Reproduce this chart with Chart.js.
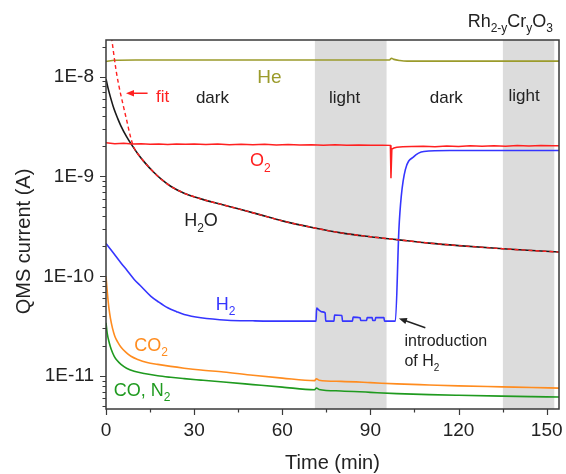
<!DOCTYPE html>
<html>
<head>
<meta charset="utf-8">
<script src="https://cdn.jsdelivr.net/npm/chart.js@4.4.0/dist/chart.umd.min.js"></script>
<style>
  html, body { margin: 0; padding: 0; background: #fff; }
  canvas { display: block; }
</style>
</head>
<body>
<canvas id="qms" width="566" height="474"></canvas>
<script>
// QMS traces over Rh(2-y)Cr(y)O3, time in minutes, ion current in A
const heTime = [0, 3, 10, 30, 60, 90, 96.5, 97.2, 98, 100, 102.5, 120, 154.2];
const heValues = [1.42e-8, 1.46e-8, 1.47e-8, 1.47e-8, 1.47e-8, 1.47e-8, 1.47e-8, 1.53e-8, 1.49e-8, 1.45e-8, 1.43e-8, 1.43e-8, 1.43e-8];

const o2Time = [0, 3, 6, 9, 12, 15, 18, 21, 24, 27, 30, 34, 38, 42, 46, 50, 54, 58, 62, 66, 70, 74, 78, 82, 86, 90, 94, 96.8, 97.0, 97.3, 98.0, 99, 101, 104, 108, 112, 116, 120, 124, 128, 132, 136, 140, 144, 148, 152, 154.2];
const o2Values = [2.18e-9, 2.13e-9, 2.15e-9, 2.11e-9, 2.13e-9, 2.10e-9, 2.12e-9, 2.09e-9, 2.11e-9, 2.10e-9, 2.12e-9, 2.09e-9, 2.11e-9, 2.08e-9, 2.10e-9, 2.08e-9, 2.10e-9, 2.07e-9, 2.09e-9, 2.07e-9, 2.08e-9, 2.06e-9, 2.08e-9, 2.06e-9, 2.07e-9, 2.05e-9, 2.06e-9, 2.05e-9, 9.6e-10, 1.88e-9, 1.93e-9, 1.96e-9, 1.98e-9, 2.00e-9, 2.01e-9, 1.99e-9, 2.02e-9, 2.00e-9, 2.03e-9, 2.01e-9, 2.03e-9, 2.01e-9, 2.04e-9, 2.02e-9, 2.04e-9, 2.03e-9, 2.03e-9];

const h2oTime = [0, 0.5, 1, 2, 2.8, 4, 5.1, 7, 9.1, 11, 13, 16, 18.7, 22, 26.6, 32, 38.5, 45, 52, 60, 71, 80, 90, 99, 110, 120, 135, 145, 154.2];
const h2oValues = [9.5e-9, 8.13e-9, 7.08e-9, 5.56e-9, 4.68e-9, 3.8e-9, 3.2e-9, 2.51e-9, 2.0e-9, 1.66e-9, 1.4e-9, 1.12e-9, 9.44e-10, 7.98e-10, 6.8e-10, 6.0e-10, 5.32e-10, 4.74e-10, 4.17e-10, 3.59e-10, 3.05e-10, 2.72e-10, 2.49e-10, 2.33e-10, 2.15e-10, 2.03e-10, 1.89e-10, 1.81e-10, 1.75e-10];

const fitTime = [0, 1, 2, 3.4, 4.5, 5.7, 7, 8.5, 9.5, 11, 13, 16, 18.7, 22, 26.6, 32, 38.5, 45, 52, 60, 71, 80, 90, 99, 110, 120, 135, 145, 154.2];
const fitValues = [6.5e-8, 3.8e-8, 2.33e-8, 1.17e-8, 7.8e-9, 5.4e-9, 3.7e-9, 2.4e-9, 1.95e-9, 1.66e-9, 1.4e-9, 1.12e-9, 9.44e-10, 7.98e-10, 6.8e-10, 6.0e-10, 5.32e-10, 4.74e-10, 4.17e-10, 3.59e-10, 3.05e-10, 2.72e-10, 2.49e-10, 2.33e-10, 2.15e-10, 2.03e-10, 1.89e-10, 1.81e-10, 1.75e-10];

const h2Time = [0, 2, 5.1, 7, 9.6, 12, 15.3, 18, 21, 24, 26.6, 32.3, 41.3, 50, 60, 71.5, 71.7, 72.4, 73.5, 74.6, 74.8, 77.6, 77.8, 80.3, 80.5, 83.9, 84.1, 86.5, 86.7, 88.7, 88.9, 90.6, 90.8, 91.6, 91.8, 94.6, 94.8, 98.5, 99.7, 100.5, 101.9, 104.8, 108.2, 117, 135, 154.2];
const h2Values = [2.13e-10, 1.79e-10, 1.36e-10, 1.16e-10, 9.3e-11, 7.9e-11, 6.3e-11, 5.5e-11, 4.83e-11, 4.42e-11, 4.14e-11, 3.84e-11, 3.63e-11, 3.58e-11, 3.55e-11, 3.55e-11, 4.8e-11, 4.6e-11, 4.4e-11, 4.3e-11, 3.55e-11, 3.55e-11, 4.1e-11, 4.05e-11, 3.55e-11, 3.55e-11, 3.9e-11, 3.85e-11, 3.6e-11, 3.6e-11, 3.85e-11, 3.85e-11, 3.6e-11, 3.6e-11, 3.85e-11, 3.85e-11, 3.55e-11, 3.55e-11, 2.93e-10, 6.3e-10, 1.17e-9, 1.58e-9, 1.78e-9, 1.82e-9, 1.82e-9, 1.82e-9];

const co2Time = [0, 0.3, 0.6, 1.0, 1.5, 2.2, 3, 4, 5.2, 6.8, 8.5, 10.8, 14, 17.6, 22, 26.6, 32.3, 40, 50, 60, 71, 71.6, 72.5, 80, 90, 99, 110, 120, 135, 145, 154.2];
const co2Values = [1.0e-10, 7.76e-11, 6.17e-11, 4.79e-11, 3.8e-11, 3.02e-11, 2.51e-11, 2.19e-11, 1.93e-11, 1.73e-11, 1.58e-11, 1.47e-11, 1.37e-11, 1.31e-11, 1.25e-11, 1.2e-11, 1.15e-11, 1.1e-11, 1.02e-11, 9.55e-12, 9.0e-12, 9.4e-12, 9.1e-12, 8.85e-12, 8.6e-12, 8.35e-12, 8.15e-12, 7.98e-12, 7.8e-12, 7.68e-12, 7.58e-12];

const coTime = [0, 0.4, 1.1, 1.8, 2.8, 3.8, 5.1, 7, 9.6, 13, 17.6, 22, 26.6, 32.3, 40, 50, 60, 71, 71.6, 72.5, 80, 90, 99, 110, 120, 135, 145, 154.2];
const coValues = [3.42e-11, 2.69e-11, 2.16e-11, 1.85e-11, 1.58e-11, 1.43e-11, 1.31e-11, 1.2e-11, 1.12e-11, 1.06e-11, 1.007e-11, 9.73e-12, 9.44e-12, 9.12e-12, 8.71e-12, 8.22e-12, 7.76e-12, 7.3e-12, 7.6e-12, 7.35e-12, 7.1e-12, 6.87e-12, 6.68e-12, 6.52e-12, 6.42e-12, 6.3e-12, 6.23e-12, 6.17e-12];

// illuminated intervals (min)
const lightStart = [71.1, 135.1];
const lightEnd = [95.5, 152.6];

const xTickValues = [0, 30, 60, 90, 120, 150];

const FONT = '"Liberation Sans", Arial, sans-serif';
const OLIVE = '#9b9b2b';
const RED = '#ff2020';
const BLUE = '#3535ff';
const ORANGE = '#ff8c1f';
const GREEN = '#1f9a1f';
const INK = '#222';

// text annotations, anchored at the left end of the baseline in data units
const annotations = [
  { parts: [['He']], t: 51.5, v: 8.55e-9, size: 19, color: OLIVE },
  { parts: [['dark']], t: 30.6, v: 5.42e-9, size: 17, color: INK },
  { parts: [['light']], t: 75.9, v: 5.42e-9, size: 17, color: INK },
  { parts: [['dark']], t: 110.2, v: 5.42e-9, size: 17, color: INK },
  { parts: [['light']], t: 137.0, v: 5.75e-9, size: 17, color: INK },
  { parts: [['fit']], t: 17.0, v: 5.62e-9, size: 17, color: RED },
  { parts: [['O'], ['2', true]], t: 49.0, v: 1.26e-9, size: 18, color: RED },
  { parts: [['H'], ['2', true], ['O']], t: 26.6, v: 3.16e-10, size: 18, color: INK },
  { parts: [['H'], ['2', true]], t: 37.4, v: 4.64e-11, size: 18, color: BLUE },
  { parts: [['introduction']], t: 101.6, v: 2.0e-11, size: 16, color: INK },
  { parts: [['of H'], ['2', true]], t: 101.6, v: 1.26e-11, size: 16, color: INK },
  { parts: [['CO'], ['2', true]], t: 9.6, v: 1.78e-11, size: 18, color: ORANGE },
  { parts: [['CO, N'], ['2', true]], t: 2.6, v: 6.31e-12, size: 18, color: GREEN }
];

const arrows = [
  { from: [14.15, 6.82e-9], to: [6.8, 6.82e-9], color: RED },
  { from: [108.7, 3.05e-11], to: [99.7, 3.78e-11], color: INK }
];

function points(t, v) {
  return t.map((x, i) => ({ x: x, y: v[i] }));
}

function subSize(size) {
  return Math.round(size * 0.64);
}

function richWidth(ctx, parts, size) {
  let w = 0;
  parts.forEach(p => {
    ctx.font = (p[1] ? subSize(size) : size) + 'px ' + FONT;
    w += ctx.measureText(p[0]).width;
  });
  return w;
}

function drawRich(ctx, parts, x, y, size, color) {
  let cx = x;
  ctx.fillStyle = color;
  ctx.textAlign = 'left';
  ctx.textBaseline = 'alphabetic';
  parts.forEach(p => {
    ctx.font = (p[1] ? subSize(size) : size) + 'px ' + FONT;
    ctx.fillText(p[0], cx, y + (p[1] ? size * 0.3 : 0));
    cx += ctx.measureText(p[0]).width;
  });
}

function drawArrow(ctx, x1, y1, x2, y2, color) {
  const ang = Math.atan2(y2 - y1, x2 - x1);
  const head = 8, half = 3.2;
  ctx.strokeStyle = color;
  ctx.fillStyle = color;
  ctx.lineWidth = 1.5;
  ctx.beginPath();
  ctx.moveTo(x1, y1);
  ctx.lineTo(x2 - Math.cos(ang) * head * 0.8, y2 - Math.sin(ang) * head * 0.8);
  ctx.stroke();
  ctx.beginPath();
  ctx.moveTo(x2, y2);
  ctx.lineTo(x2 - Math.cos(ang) * head - Math.sin(ang) * half, y2 - Math.sin(ang) * head + Math.cos(ang) * half);
  ctx.lineTo(x2 - Math.cos(ang) * head + Math.sin(ang) * half, y2 - Math.sin(ang) * head - Math.cos(ang) * half);
  ctx.closePath();
  ctx.fill();
}

// grey bands behind the traces for the light periods
const lightBands = {
  id: 'lightBands',
  beforeDatasetsDraw(chart) {
    const { ctx, chartArea, scales } = chart;
    ctx.save();
    ctx.fillStyle = '#dcdcdc';
    lightStart.forEach((s, i) => {
      const x1 = scales.x.getPixelForValue(s);
      const x2 = scales.x.getPixelForValue(lightEnd[i]);
      ctx.fillRect(x1, chartArea.top, x2 - x1, chartArea.bottom - chartArea.top);
    });
    ctx.restore();
  }
};

// box frame plus outward major/minor tick marks
const frameTicks = {
  id: 'frameTicks',
  afterDatasetsDraw(chart) {
    const { ctx, chartArea: a, scales } = chart;
    ctx.save();
    ctx.strokeStyle = '#3a3a3a';
    ctx.lineWidth = 1.5;
    ctx.strokeRect(a.left, a.top, a.right - a.left, a.bottom - a.top);
    ctx.lineWidth = 1.2;
    ctx.beginPath();
    scales.y.ticks.forEach(tk => {
      const py = Math.round(scales.y.getPixelForValue(tk.value)) + 0.5;
      const len = tk.major ? 6 : 3.5;
      ctx.moveTo(a.left - len, py);
      ctx.lineTo(a.left, py);
    });
    scales.x.ticks.forEach(tk => {
      const px = Math.round(scales.x.getPixelForValue(tk.value)) + 0.5;
      ctx.moveTo(px, a.bottom);
      ctx.lineTo(px, a.bottom + 6);
      const mx = scales.x.getPixelForValue(tk.value + 15);
      if (tk.value + 15 <= scales.x.max) {
        ctx.moveTo(Math.round(mx) + 0.5, a.bottom);
        ctx.lineTo(Math.round(mx) + 0.5, a.bottom + 3.5);
      }
    });
    ctx.stroke();
    ctx.restore();
  }
};

// species names, light/dark captions, arrows and axis titles
const captions = {
  id: 'captions',
  afterDraw(chart) {
    const { ctx, chartArea: a, scales } = chart;
    ctx.save();
    annotations.forEach(l => {
      drawRich(ctx, l.parts, scales.x.getPixelForValue(l.t), scales.y.getPixelForValue(l.v), l.size, l.color);
    });
    arrows.forEach(ar => {
      drawArrow(ctx,
        scales.x.getPixelForValue(ar.from[0]), scales.y.getPixelForValue(ar.from[1]),
        scales.x.getPixelForValue(ar.to[0]), scales.y.getPixelForValue(ar.to[1]), ar.color);
    });
    // sample name above the frame, right aligned
    const sample = [['Rh'], ['2-y', true], ['Cr'], ['y', true], ['O'], ['3', true]];
    const w = richWidth(ctx, sample, 18);
    drawRich(ctx, sample, a.right - 6 - w, a.top - 13, 18, INK);

    ctx.fillStyle = INK;
    ctx.font = '20px ' + FONT;
    ctx.textAlign = 'center';
    ctx.textBaseline = 'alphabetic';
    ctx.fillText('Time (min)', (a.left + a.right) / 2, 469);
    ctx.translate(29.5, 241.5);
    ctx.rotate(-Math.PI / 2);
    ctx.fillText('QMS current (A)', 0, 0);
    ctx.restore();
  }
};

function trace(label, t, v, color, order, extra) {
  return Object.assign({
    label: label,
    data: points(t, v),
    borderColor: color,
    borderWidth: 1.6,
    pointRadius: 0,
    fill: false,
    cubicInterpolationMode: 'monotone',
    order: order
  }, extra || {});
}

new Chart(document.getElementById('qms').getContext('2d'), {
  type: 'line',
  data: {
    datasets: [
      trace('H2O fit', fitTime, fitValues, RED, 0, { borderDash: [4, 3], borderWidth: 1.4 }),
      trace('O2', o2Time, o2Values, RED, 1, { cubicInterpolationMode: 'default', tension: 0, borderWidth: 1.5 }),
      trace('H2', h2Time, h2Values, BLUE, 2),
      trace('H2O', h2oTime, h2oValues, '#1a1a1a', 3),
      trace('He', heTime, heValues, OLIVE, 4),
      trace('CO2', co2Time, co2Values, ORANGE, 5),
      trace('CO, N2', coTime, coValues, GREEN, 6)
    ]
  },
  options: {
    responsive: false,
    animation: false,
    devicePixelRatio: 1,
    layout: { padding: { top: 40, right: 7, left: 0, bottom: 0 } },
    plugins: {
      legend: { display: false },
      tooltip: { enabled: false },
      title: { display: false }
    },
    scales: {
      x: {
        type: 'linear',
        min: 0,
        max: 154.2,
        grid: { display: false, drawTicks: false },
        border: { display: false },
        ticks: {
          color: INK,
          font: { family: FONT, size: 19 },
          padding: 10,
          maxRotation: 0,
          autoSkip: false,
          includeBounds: false
        },
        afterBuildTicks: s => { s.ticks = xTickValues.map(v => ({ value: v })); },
        afterFit: s => { s.height = 65; s.paddingLeft = 0; s.paddingRight = 0; }
      },
      y: {
        type: 'logarithmic',
        min: 4.68e-12,
        max: 2.33e-8,
        grid: { display: false, drawTicks: false },
        border: { display: false },
        ticks: {
          color: INK,
          font: { family: FONT, size: 19 },
          padding: 12,
          autoSkip: false,
          callback: (value, i, ticks) => ticks[i].major ? '1E' + Math.round(Math.log10(value)) : ''
        },
        afterBuildTicks: s => {
          const ticks = [];
          for (let e = -12; e <= -8; e++) {
            for (let m = 1; m <= 9; m++) {
              const v = m * Math.pow(10, e);
              if (v >= s.min && v <= s.max) ticks.push({ value: v, major: m === 1 });
            }
          }
          s.ticks = ticks;
        },
        afterFit: s => { s.width = 106; s.paddingTop = 0; s.paddingBottom = 0; }
      }
    }
  },
  plugins: [lightBands, frameTicks, captions]
});
</script>
</body>
</html>
